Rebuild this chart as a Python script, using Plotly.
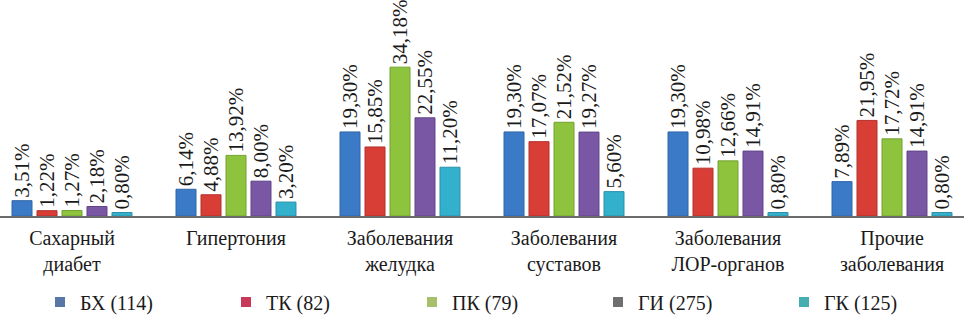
import plotly.graph_objects as go

categories = ["Сахарный<br>диабет", "Гипертония", "Заболевания<br>желудка",
              "Заболевания<br>суставов", "Заболевания<br>ЛОР-органов", "Прочие<br>заболевания"]
series_names = ["БХ (114)", "ТК (82)", "ПК (79)", "ГИ (275)", "ГК (125)"]
bx = [3.51, 6.14, 19.30, 19.30, 19.30, 7.89]
tk = [1.22, 4.88, 15.85, 17.07, 10.98, 21.95]
pk = [1.27, 13.92, 34.18, 21.52, 12.66, 17.72]
gi = [2.18, 8.00, 22.55, 19.27, 14.91, 14.91]
gk = [0.80, 3.20, 11.20, 5.60, 0.80, 0.80]
series_values = [bx, tk, pk, gi, gk]

bar_colors = ["#3b7ac7", "#d83d36", "#8dc33d", "#7a57a4", "#33b0cc"]
bar_edges = ["#2f64a6", "#b3302b", "#73a231", "#614587", "#2a90a8"]
legend_colors = ["#5876a6", "#c8395a", "#a9c06a", "#6f6f6f", "#45aeb0"]

FONT = "Times New Roman"

W, H = 964, 320
PLOT_H = 216

fig = go.Figure()
for name, vals, c, e in zip(series_names, series_values, bar_colors, bar_edges):
    fig.add_trace(go.Bar(
        x=categories, y=vals, name=name, showlegend=False,
        marker=dict(color=c, line=dict(color=e, width=1)),
        text=[f"{v:.2f}".replace(".", ",") + "%" for v in vals],
        textposition="outside", textangle=-90, constraintext="none",
        cliponaxis=False,
        textfont=dict(family=FONT, size=21, color="#1a1a1a"),
    ))
for name, lc in zip(series_names, legend_colors):
    fig.add_trace(go.Scatter(
        x=[None], y=[None], mode="markers", name=name,
        marker=dict(symbol="square", size=10, color=lc),
    ))

fig.update_layout(
    width=W, height=H,
    margin=dict(l=0, r=0, t=0, b=H - PLOT_H, autoexpand=False),
    paper_bgcolor="white", plot_bgcolor="white",
    barmode="group", bargap=0.238, bargroupgap=0.2,
    font=dict(family=FONT, color="#1a1a1a"),
    showlegend=True,
    legend=dict(orientation="h", x=40/W, xanchor="left", y=-(302 - PLOT_H)/PLOT_H, yanchor="middle",
                entrywidth=141, entrywidthmode="pixels",
                font=dict(family=FONT, size=20, color="#1a1a1a"),
                bgcolor="rgba(0,0,0,0)"),
)
fig.update_xaxes(type="category", range=[-0.439, 5.439], showgrid=False, ticks="",
                 automargin=False, ticklabelstandoff=3,
                 showline=True, linecolor="#6b6b6b", linewidth=1.5,
                 tickfont=dict(family=FONT, size=20, color="#1a1a1a"))
fig.update_yaxes(range=[0, 49.6], visible=False, showgrid=False, zeroline=False,
                 automargin=False)

fig.write_html("out.html",
               config={"displayModeBar": False},
               post_script="document.body.style.margin='0';document.body.style.overflow='hidden';")
